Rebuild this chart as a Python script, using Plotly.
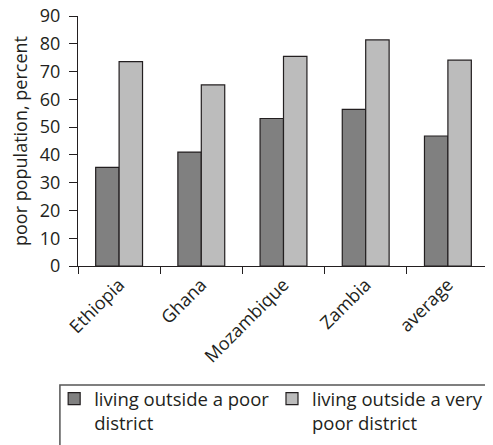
import plotly.graph_objects as go

countries = ['Ethiopia', 'Ghana', 'Mozambique', 'Zambia', 'average']
outside_poor = [35.5, 41.0, 53.1, 56.4, 46.8]
outside_very_poor = [73.6, 65.2, 75.5, 81.4, 74.1]

font_family = 'Open Sans, Lato, sans-serif'
ink = '#231f20'

fig = go.Figure()
fig.add_trace(go.Bar(
    x=countries, y=outside_poor,
    name='living outside a poor<br>district', legend='legend',
    marker=dict(color='#808080', line=dict(color=ink, width=1.2))))
fig.add_trace(go.Bar(
    x=countries, y=outside_very_poor,
    name='living outside a very<br>poor district', legend='legend2',
    marker=dict(color='#bcbcbc', line=dict(color=ink, width=1.2))))

legend_style = dict(
    yanchor='top', xanchor='left', y=-0.456,
    borderwidth=0, bgcolor='rgba(0,0,0,0)',
    font=dict(size=18.5), valign='top', itemwidth=30)

# the page body keeps its 8px margin, so the figure is 8px smaller each way
fig.update_layout(
    width=485, height=437,
    margin=dict(l=70, r=4, t=8, b=179, autoexpand=False),
    paper_bgcolor='white', plot_bgcolor='white',
    font=dict(family=font_family, size=18, color=ink),
    barmode='group', bargap=0.43, bargroupgap=0,
    showlegend=True,
    legend=dict(x=-0.058, **legend_style),
    legend2=dict(x=0.472, **legend_style),
    shapes=[dict(type='rect', xref='paper', yref='paper',
                 x0=-0.044, x1=1.2, y0=-1.0, y1=-0.476,
                 line=dict(color='#555555', width=1.5))],
    xaxis=dict(
        automargin=False,
        showline=True, linecolor=ink, linewidth=1.2,
        ticks='outside', ticklen=7, tickcolor=ink, tickwidth=1.2,
        tickson='boundaries', tickangle=-45, showgrid=False),
    yaxis=dict(
        automargin=False,
        title=dict(text='poor population, percent', standoff=14,
                   font=dict(size=18)),
        range=[0, 90], dtick=10, ticklabelstandoff=5,
        ticklabeloverflow='allow',
        showline=True, linecolor=ink, linewidth=1.2,
        ticks='outside', ticklen=8, tickcolor=ink, tickwidth=1.2,
        showgrid=False, zeroline=False),
)

fig.write_html('out.html')
